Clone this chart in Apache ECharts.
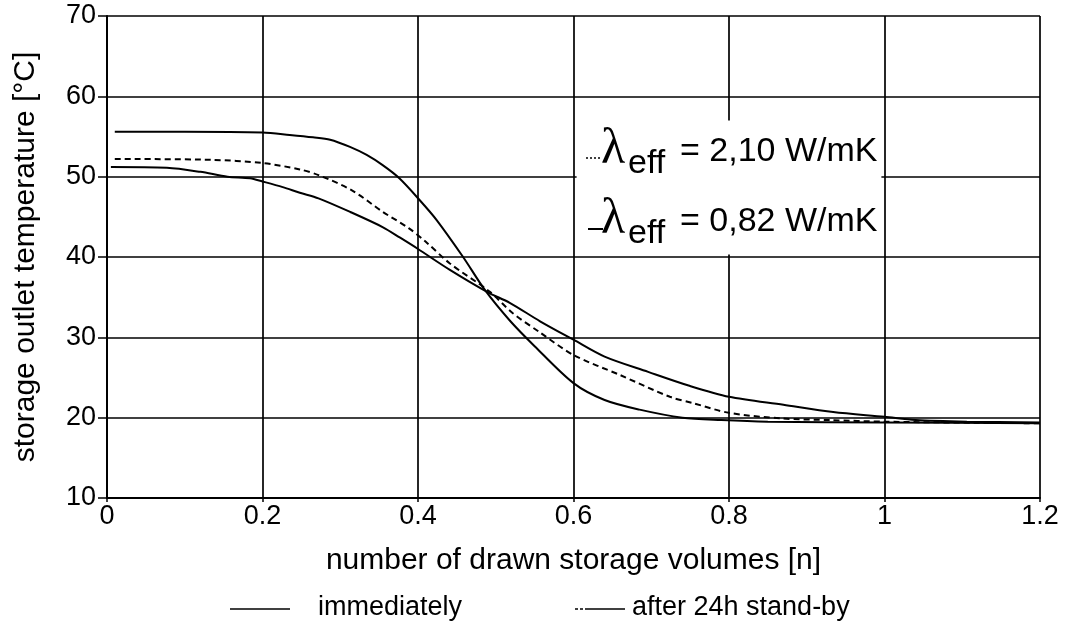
<!DOCTYPE html>
<html><head><meta charset="utf-8">
<script src="https://cdn.jsdelivr.net/npm/echarts/dist/echarts.min.js"></script>
<style>html,body{margin:0;padding:0;background:#fff}#c{width:1067px;height:630px}</style>
</head><body><div id="c"></div>
<script>
// x: number of drawn storage volumes [n], y: storage outlet temperature [°C]
const immediatelyN = [0.01,0.1,0.2,0.235,0.265,0.287,0.3125,0.334,0.355,0.376,0.402,0.424,0.458,0.486,0.518,0.55,0.6,0.64,0.685,0.74,0.79,0.85,1.0,1.2];
const immediatelyT = [55.6,55.6,55.5,55.2,54.9,54.6,53.7,52.7,51.4,49.8,47.1,44.6,40.0,35.9,32.1,28.9,24.3,22.2,21.0,20.0,19.7,19.5,19.4,19.3];

const lambda210N = [0.01,0.133,0.2,0.248,0.272,0.315,0.355,0.388,0.41,0.441,0.492,0.522,0.557,0.6,0.66,0.724,0.754,0.8,0.868,0.93,1.0,1.2];
const lambda210T = [52.2,52.1,51.7,50.9,50.2,48.3,45.6,43.6,41.9,39.2,35.7,33.0,30.6,27.8,25.3,22.6,21.8,20.6,19.9,19.7,19.5,19.3];

const lambda082N = [0.005,0.077,0.12,0.155,0.184,0.2,0.226,0.248,0.272,0.313,0.355,0.377,0.4,0.441,0.49,0.518,0.557,0.6,0.64,0.696,0.748,0.8,0.87,0.934,1.0,1.04,1.106,1.2];
const lambda082T = [51.2,51.1,50.6,50.0,49.8,49.4,48.7,48.0,47.3,45.6,43.7,42.4,41.0,38.4,35.6,34.3,32.0,29.7,27.6,25.7,24.0,22.6,21.6,20.7,20.1,19.7,19.5,19.4];

const xMin = 0, xMax = 1.2, xStep = 0.2;
const yMin = 10, yMax = 70, yStep = 10;
const xTitle = 'number of drawn storage volumes [n]';
const yTitle = 'storage outlet temperature [°C]';
const legendBottom = ['immediately', 'after 24h stand-by'];
const lambdaLabels = ['= 2,10 W/mK', '= 0,82 W/mK'];
// white label box region (data units)
const boxX = [0.604, 0.996];
const boxY = [40.3, 57];

const pairs = (xs, ys) => xs.map((x, i) => [x, ys[i]]);
const FONT = '"Liberation Sans", Arial, sans-serif';
const chart = echarts.init(document.getElementById('c'), null, {renderer: 'canvas'});

const lineStyleBase = {color: '#000', width: 2};

chart.setOption({
  backgroundColor: '#fff',
  animation: false,
  grid: {left: 107, right: 27, top: 16, bottom: 132},
  xAxis: {
    type: 'value', min: xMin, max: xMax, interval: xStep,
    name: xTitle, nameLocation: 'middle', nameGap: 48,
    nameTextStyle: {fontFamily: FONT, fontSize: 30, color: '#000'},
    axisLine: {show: true, lineStyle: {color: '#000', width: 2}},
    axisTick: {show: true, length: 4, lineStyle: {color: '#000', width: 1.5}},
    axisLabel: {fontFamily: FONT, fontSize: 27, color: '#000', margin: 5},
    splitLine: {show: true, lineStyle: {color: '#000', width: 1.7}}
  },
  yAxis: {
    type: 'value', min: yMin, max: yMax, interval: yStep,
    name: yTitle, nameLocation: 'middle', nameGap: 66,
    nameTextStyle: {fontFamily: FONT, fontSize: 30, color: '#000'},
    axisLine: {show: true, lineStyle: {color: '#000', width: 2}},
    axisTick: {show: true, length: 9, lineStyle: {color: '#000', width: 1.5}},
    axisLabel: {fontFamily: FONT, fontSize: 27, color: '#000', margin: 11},
    splitLine: {show: true, lineStyle: {color: '#000', width: 1.7}}
  },
  series: [
    {
      name: 'immediately', type: 'line', showSymbol: false, smooth: 0.3,
      data: pairs(immediatelyN, immediatelyT),
      lineStyle: lineStyleBase, z: 3,
      markArea: {
        silent: true,
        itemStyle: {color: '#fff', opacity: 1},
        data: [[{xAxis: boxX[0], yAxis: boxY[1]}, {xAxis: boxX[1], yAxis: boxY[0]}]]
      }
    },
    {
      name: 'after 24h stand-by, λeff = 2,10 W/mK', type: 'line', showSymbol: false, smooth: 0.3,
      data: pairs(lambda210N, lambda210T),
      lineStyle: {color: '#000', width: 2, type: [6, 4]}, z: 3
    },
    {
      name: 'after 24h stand-by, λeff = 0,82 W/mK', type: 'line', showSymbol: false, smooth: 0.3,
      data: pairs(lambda082N, lambda082T),
      lineStyle: lineStyleBase, z: 3
    }
  ],
  graphic: [
    // box legend, row 1 (dotted)
    {type: 'line', shape: {x1: 586, y1: 158, x2: 602, y2: 158}, style: {stroke: '#000', lineWidth: 1.5, lineDash: [2, 2]}, z: 10},
    {type: 'text', x: 601, y: 150, style: {text: 'λ', font: '50px "Liberation Serif", serif', fill: '#000', verticalAlign: 'middle'}, z: 10},
    {type: 'text', x: 628, y: 164, style: {text: 'eff', font: '34px ' + FONT, fill: '#000', verticalAlign: 'middle'}, z: 10},
    {type: 'text', x: 680, y: 152, style: {text: lambdaLabels[0], font: '34px ' + FONT, fill: '#000', verticalAlign: 'middle'}, z: 10},
    // row 2 (solid)
    {type: 'line', shape: {x1: 588, y1: 229, x2: 603, y2: 229}, style: {stroke: '#000', lineWidth: 2}, z: 10},
    {type: 'text', x: 601, y: 220, style: {text: 'λ', font: '50px "Liberation Serif", serif', fill: '#000', verticalAlign: 'middle'}, z: 10},
    {type: 'text', x: 628, y: 234, style: {text: 'eff', font: '34px ' + FONT, fill: '#000', verticalAlign: 'middle'}, z: 10},
    {type: 'text', x: 680, y: 222, style: {text: lambdaLabels[1], font: '34px ' + FONT, fill: '#000', verticalAlign: 'middle'}, z: 10},
    // bottom legend
    {type: 'line', shape: {x1: 230, y1: 609, x2: 290, y2: 609}, style: {stroke: '#000', lineWidth: 1.5}},
    {type: 'text', x: 318, y: 608, style: {text: legendBottom[0], font: '27px ' + FONT, fill: '#000', verticalAlign: 'middle'}},
    {type: 'line', shape: {x1: 575, y1: 609, x2: 588, y2: 609}, style: {stroke: '#000', lineWidth: 1.5, lineDash: [3, 2]}},
    {type: 'line', shape: {x1: 588, y1: 609, x2: 625, y2: 609}, style: {stroke: '#000', lineWidth: 1.5}},
    {type: 'text', x: 632, y: 608, style: {text: legendBottom[1], font: '27px ' + FONT, fill: '#000', verticalAlign: 'middle'}}
  ]
});
</script>
</body></html>
